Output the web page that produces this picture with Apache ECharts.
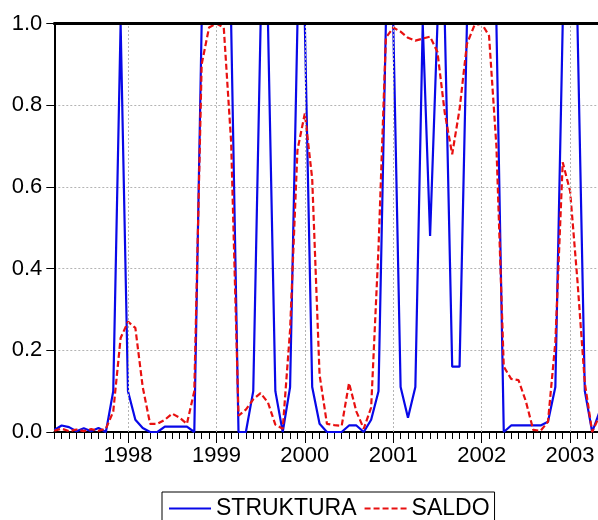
<!DOCTYPE html>
<html><head><meta charset="utf-8">
<script src="https://cdn.jsdelivr.net/npm/echarts@6/dist/echarts.min.js"></script>
<style>html,body{margin:0;padding:0;background:#fff}#c{width:598px;height:520px}</style>
</head><body><div id="c"></div>
<script>
// monthly periods, 1997M03 .. 2003M05
const periods = [
  '1997M03','1997M04','1997M05','1997M06','1997M07','1997M08','1997M09','1997M10','1997M11','1997M12',
  '1998M01','1998M02','1998M03','1998M04','1998M05','1998M06','1998M07','1998M08','1998M09','1998M10','1998M11','1998M12',
  '1999M01','1999M02','1999M03','1999M04','1999M05','1999M06','1999M07','1999M08','1999M09','1999M10','1999M11','1999M12',
  '2000M01','2000M02','2000M03','2000M04','2000M05','2000M06','2000M07','2000M08','2000M09','2000M10','2000M11','2000M12',
  '2001M01','2001M02','2001M03','2001M04','2001M05','2001M06','2001M07','2001M08','2001M09','2001M10','2001M11','2001M12',
  '2002M01','2002M02','2002M03','2002M04','2002M05','2002M06','2002M07','2002M08','2002M09','2002M10','2002M11','2002M12',
  '2003M01','2003M02','2003M03','2003M04','2003M05'
];
const struktura = [
  0.005,0.016,0.012,0.002,0.009,0.002,0.010,0.000,0.100,1.000,
  0.100,0.030,0.010,0.000,0.000,0.013,0.013,0.013,0.013,0.000,1.000,1.000,
  1.000,1.000,1.000,0.000,0.000,0.100,1.000,1.000,0.100,0.000,0.110,1.000,
  1.000,0.110,0.020,0.000,0.000,0.000,0.016,0.016,0.000,0.030,0.100,1.000,
  1.000,0.110,0.035,0.110,1.000,0.480,1.000,1.000,0.160,0.160,1.000,1.000,
  1.000,1.000,1.000,0.000,0.016,0.016,0.016,0.016,0.016,0.025,0.110,1.000,
  1.000,1.000,0.100,0.000,0.050
];
const saldo = [
  0.003,0.008,0.002,0.006,0.002,0.007,0.003,0.008,0.050,0.230,
  0.270,0.255,0.110,0.020,0.020,0.030,0.045,0.035,0.020,0.100,0.900,0.990,
  1.000,0.990,0.710,0.040,0.055,0.080,0.095,0.072,0.018,0.008,0.250,0.690,
  0.780,0.620,0.140,0.020,0.017,0.015,0.120,0.050,0.008,0.060,0.450,0.965,
  0.990,0.980,0.965,0.958,0.963,0.968,0.930,0.780,0.680,0.790,0.950,0.995,
  1.000,0.970,0.700,0.160,0.130,0.127,0.075,0.005,0.003,0.025,0.220,0.660,
  0.590,0.370,0.120,0.000,0.040
];
const yearLabels = ['1998','1999','2000','2001','2002','2003'];

const yearPos = yearLabels.map(y => periods.indexOf(y + 'M01'));
const monthPos = periods.map((p, i) => i).concat([periods.length]);
const FONT = '"Liberation Sans", Arial, sans-serif';
const X_MAX = 76;

const chart = echarts.init(document.getElementById('c'));
chart.setOption({
  backgroundColor: '#fff',
  animation: false,
  grid: { left: 54.3, top: 23.5, width: 560, height: 408.5, show: false, outerBoundsMode: 'none', containLabel: false },
  legend: {
    data: ['STRUKTURA', 'SALDO'],
    left: 162, top: 492,
    padding: [5, 5, 5, 6],
    itemWidth: 42, itemHeight: 14, itemGap: 7,
    borderColor: '#000', borderWidth: 1,
    itemStyle: { opacity: 0, borderWidth: 0 },
    textStyle: { fontSize: 23, color: '#000', fontFamily: FONT }
  },
  xAxis: [
    {
      type: 'value', min: 0, max: X_MAX, position: 'bottom',
      axisLine: { show: true, onZero: false, lineStyle: { color: '#000', width: 2 } },
      axisTick: { show: true, inside: false, length: 7, customValues: monthPos, lineStyle: { color: '#000', width: 1 } },
      axisLabel: {
        show: true, customValues: yearPos, margin: 13,
        fontSize: 22, color: '#000', fontFamily: FONT,
        formatter: v => { const k = yearPos.indexOf(Math.round(v)); return k >= 0 ? yearLabels[k] : ''; }
      },
      splitLine: { show: false }
    },
    {
      type: 'value', min: 0, max: X_MAX, position: 'bottom',
      axisLine: { show: false },
      axisTick: { show: true, inside: false, length: 11, customValues: yearPos, lineStyle: { color: '#000', width: 1 } },
      axisLabel: { show: false },
      splitLine: { show: false }
    },
    {
      type: 'value', min: 0, max: X_MAX, position: 'top', z: 10,
      axisLine: { show: true, onZero: false, lineStyle: { color: '#000', width: 3 } },
      axisTick: { show: false }, axisLabel: { show: false }, splitLine: { show: false }
    }
  ],
  yAxis: {
    type: 'value', min: 0, max: 1, interval: 0.2,
    axisLine: { show: true, onZero: false, lineStyle: { color: '#000', width: 2 } },
    axisTick: { show: true, inside: false, length: 8, lineStyle: { color: '#000', width: 1 } },
    axisLabel: { margin: 12, fontSize: 22, color: '#000', fontFamily: FONT, formatter: v => v.toFixed(1) },
    splitLine: { show: true, lineStyle: { color: '#b4b4b4', width: 1, type: [2, 2] } }
  },
  series: [
    {
      name: 'grid', type: 'line', data: [], z: 1, silent: true,
      markLine: {
        silent: true, symbol: 'none', label: { show: false },
        lineStyle: { color: '#b4b4b4', width: 1, type: [2, 2] },
        data: yearPos.map(p => ({ xAxis: p }))
      }
    },
    {
      name: 'STRUKTURA', type: 'line', z: 3,
      data: periods.map((p, i) => [i, struktura[i]]),
      symbol: 'none', showSymbol: false,
      lineStyle: { color: '#0808e8', width: 2.2 }, itemStyle: { color: '#0808e8' }
    },
    {
      name: 'SALDO', type: 'line', z: 4,
      data: periods.map((p, i) => [i, saldo[i]]),
      symbol: 'none', showSymbol: false,
      lineStyle: { color: '#e81010', width: 2.2, type: [6, 3] }, itemStyle: { color: '#e81010' }
    }
  ]
});
</script></body></html>
